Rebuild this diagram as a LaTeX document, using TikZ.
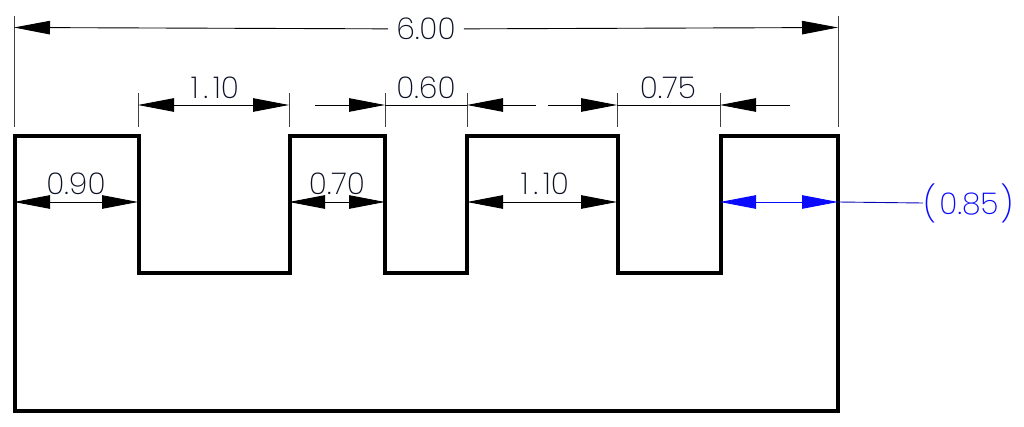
\documentclass[tikz,border=0pt]{standalone}
\usepackage{fontspec}
\setmainfont{Poppins ExtraLight}
\usetikzlibrary{arrows.meta}
\definecolor{dimblue}{RGB}{10,10,255}
\definecolor{dimtext}{RGB}{10,15,35}
\tikzset{
  x=1pt,y=-1pt,
  profile/.style={line width=4pt,line join=miter,black},
  extline/.style={line width=0.8pt,black!75},
  dimline/.style={line width=0.9pt,black},
  tipped/.style={dimline,-{Triangle[length=36pt,width=13.5pt]}},
  bothtipped/.style={dimline,{Triangle[length=36pt,width=13.5pt]}-{Triangle[length=36pt,width=13.5pt]}},
  dimlabel/.style={font=\fontsize{30}{30}\selectfont,text=dimtext,inner sep=0pt,anchor=center},
  bluedim/.style={bothtipped,color=dimblue},
}
\newcommand{\onetenlabel}{1\kern5pt.\kern5pt 10}
\begin{document}
\begin{tikzpicture}
\useasboundingbox (0,0) rectangle (1024,427);
\draw[profile] (14.5,136.5) -- (138.5,136.5) -- (138.5,273.5) -- (289.5,273.5) -- (289.5,136.5) -- (385,136.5) -- (385,273.5) -- (467,273.5) -- (467,136.5) -- (617.5,136.5) -- (617.5,273.5) -- (720.5,273.5) -- (720.5,136.5) -- (837.5,136.5) -- (837.5,410.5) -- (14.5,410.5) -- cycle;
% extension lines
\foreach \n/\xx/\ya in {a/14/16,b/138/93,c/289/93,d/385/93,e/467/93,f/617/93,g/720/93,h/838/16}{
  \coordinate (\n top) at (\xx,\ya);
  \coordinate (\n bot) at (\xx,127);
  \draw[extline] (\n top) -- (\n bot);
}
% overall
\coordinate (ta) at (14,27.5); \coordinate (th) at (838,27.5);
\node[dimlabel,inner xsep=8pt,minimum height=24pt] (overall) at (426,29) {6.00};
\draw[tipped] (overall) -- (ta);
\draw[tipped] (overall) -- (th);
% row 2
\coordinate (r2b) at (138,105); \coordinate (r2c) at (289,105);
\draw[bothtipped] (r2b) -- (r2c);
\node[dimlabel] (l110a) at (215,88) {\onetenlabel};
\coordinate (r2d) at (385,105); \coordinate (r2e) at (467,105);
\coordinate (r2dout) at (315,105); \coordinate (r2eout) at (536,105);
\draw[tipped] (r2dout) -- (r2d);
\draw[tipped] (r2eout) -- (r2e);
\draw[dimline] (r2d) -- (r2e);
\node[dimlabel] (l060) at (426,88) {0.60};
\coordinate (r2f) at (617,105); \coordinate (r2g) at (720,105);
\coordinate (r2fout) at (548,105); \coordinate (r2gout) at (790,105);
\draw[tipped] (r2fout) -- (r2f);
\draw[tipped] (r2gout) -- (r2g);
\draw[dimline] (r2f) -- (r2g);
\node[dimlabel] (l075) at (668,88) {0.75};
% row 3
\coordinate (r3a) at (14,202); \coordinate (r3b) at (138,202);
\draw[bothtipped] (r3a) -- (r3b);
\node[dimlabel] (l090) at (76,184) {0.90};
\coordinate (r3c) at (289,202); \coordinate (r3d) at (385,202);
\draw[bothtipped] (r3c) -- (r3d);
\node[dimlabel] (l070) at (337,184) {0.70};
\coordinate (r3e) at (467,202); \coordinate (r3f) at (617,202);
\draw[bothtipped] (r3e) -- (r3f);
\node[dimlabel] (l110b) at (545,184) {\onetenlabel};
% blue
\coordinate (r3g) at (720,202); \coordinate (r3h) at (838,202);
\draw[bluedim] (r3g) -- (r3h);
\node[dimlabel,text=dimblue,anchor=west] (l085) at (923,203) {\raisebox{-1.5pt}{\fontsize{35}{35}\selectfont (}\kern3pt 0.85\kern2pt \raisebox{-1.5pt}{\fontsize{35}{35}\selectfont )}};
\draw[line width=0.9pt,dimblue!70!black] (r3h) -- (l085.west);
\end{tikzpicture}
\end{document}
